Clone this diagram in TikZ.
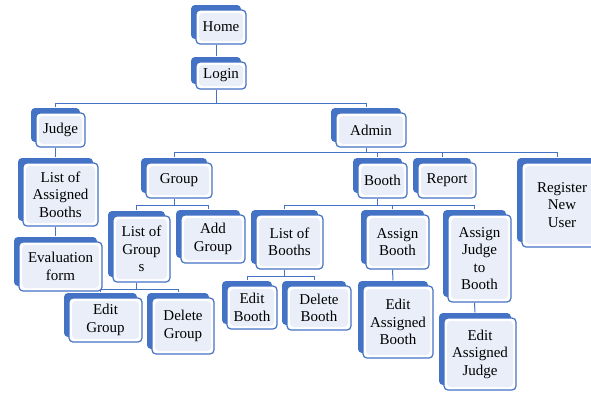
\documentclass[tikz,border=0pt]{standalone}
\usepackage{fontspec}
\setmainfont{Liberation Serif}
\usetikzlibrary{shadows}
\definecolor{bblue}{RGB}{68,114,196}
\definecolor{lblue}{RGB}{233,238,248}
\tikzset{
  box/.style={draw=bblue, line width=1.2pt, rounded corners=4pt, fill=white,
    align=center, inner sep=0pt, font=\fontsize{15}{17.5}\selectfont,
    general shadow={fill=bblue, draw=none, shadow xshift=-5pt, shadow yshift=5pt},
    path picture={\fill[lblue] ([shift={(3pt,3pt)}]path picture bounding box.south west)
      rectangle ([shift={(-3pt,-3pt)}]path picture bounding box.north east);}},
  conn/.style={draw=bblue, line width=1pt}
}
\newcommand\bx[6]{%
  \node[box, minimum width=#4pt, minimum height=#5pt] (#1) at (#2,#3) {#6};
  \coordinate (#1T) at ([xshift=-5pt,yshift=5pt]#1.north);
  \coordinate (#1B) at ([xshift=-5pt]#1.south);}
\begin{document}
\begin{tikzpicture}[x=1pt,y=-1pt]
\useasboundingbox (0,0) rectangle (591,392);
% buses
\coordinate (b1) at (0,103);
\coordinate (b2) at (0,152);
\coordinate (b3) at (0,205);
\coordinate (b5) at (0,289);
\coordinate (b6) at (0,276);
% boxes
\bx{home}{221}{27}{50}{34}{Home}
\bx{login}{221}{75.5}{50}{27}{Login}
\bx{judge}{60.5}{130}{49}{34}{Judge}
\bx{admin}{371}{130}{70}{34}{Admin}
\bx{lab}{60.5}{194.5}{75}{63}{List of\\Assigned\\Booths}
\bx{eval}{60.5}{266.5}{83}{49}{Evaluation\\form}
\bx{group}{179}{180.5}{66}{35}{Group}
\bx{booth}{382.5}{180.5}{49}{35}{Booth}
\bx{report}{447}{180.5}{58}{35}{Report}
\bx{register}{562}{205}{80}{84}{Register\\New\\User}
\bx{log}{141.5}{249}{57}{66}{List of\\Group\\s}
\bx{addgroup}{213}{239}{64}{48}{Add\\Group}
\bx{editgroup}{105.5}{320}{73}{44}{Edit\\Group}
\bx{delgroup}{183}{326}{62}{56}{Delete\\Group}
\bx{lob}{289.5}{242}{67}{54}{List of\\Booths}
\bx{editbooth}{252}{307.5}{50}{43}{Edit\\Booth}
\bx{delbooth}{319}{308}{64}{44}{Delete\\Booth}
\bx{assignbooth}{397.5}{242}{63}{54}{Assign\\Booth}
\bx{eab}{398}{322}{70}{72}{Edit\\Assigned\\Booth}
\bx{ajb}{479.5}{258.5}{63}{87}{Assign\\Judge\\to\\Booth}
\bx{eaj}{480}{354}{72}{72}{Edit\\Assigned\\Judge}
% single links
\draw[conn] (homeB) -- (loginT);
\draw[conn] (judgeB) -- (labT);
\draw[conn] (labB) -- (evalT);
\draw[conn] (assignboothB) -- (eabT);
\draw[conn] (ajbB) -- (eajT);
% bus 1
\draw[conn] (loginB) -- (loginB |- b1);
\draw[conn] (judgeT) -- (judgeT |- b1) -- (adminT |- b1) -- (adminT);
% bus 2
\draw[conn] (adminB) -- (adminB |- b2);
\draw[conn] (groupT) -- (groupT |- b2) -- (registerT |- b2) -- (registerT);
\draw[conn] (boothT) -- (boothT |- b2);
\draw[conn] (reportT) -- (reportT |- b2);
% bus 3 (group)
\draw[conn] (groupB) -- (groupB |- b3);
\draw[conn] (logT) -- (logT |- b3) -- (addgroupT |- b3) -- (addgroupT);
% bus 4 (booth)
\draw[conn] (boothB) -- (boothB |- b3);
\draw[conn] (lobT) -- (lobT |- b3) -- (ajbT |- b3) -- (ajbT);
\draw[conn] (assignboothT) -- (assignboothT |- b3);
% bus 5 (list of groups)
\draw[conn] (logB) -- (logB |- b5);
\draw[conn] (editgroupT) -- (editgroupT |- b5) -- (delgroupT |- b5) -- (delgroupT);
% bus 6 (list of booths)
\draw[conn] (lobB) -- (lobB |- b6);
\draw[conn] (editboothT) -- (editboothT |- b6) -- (delboothT |- b6) -- (delboothT);
\end{tikzpicture}
\end{document}
